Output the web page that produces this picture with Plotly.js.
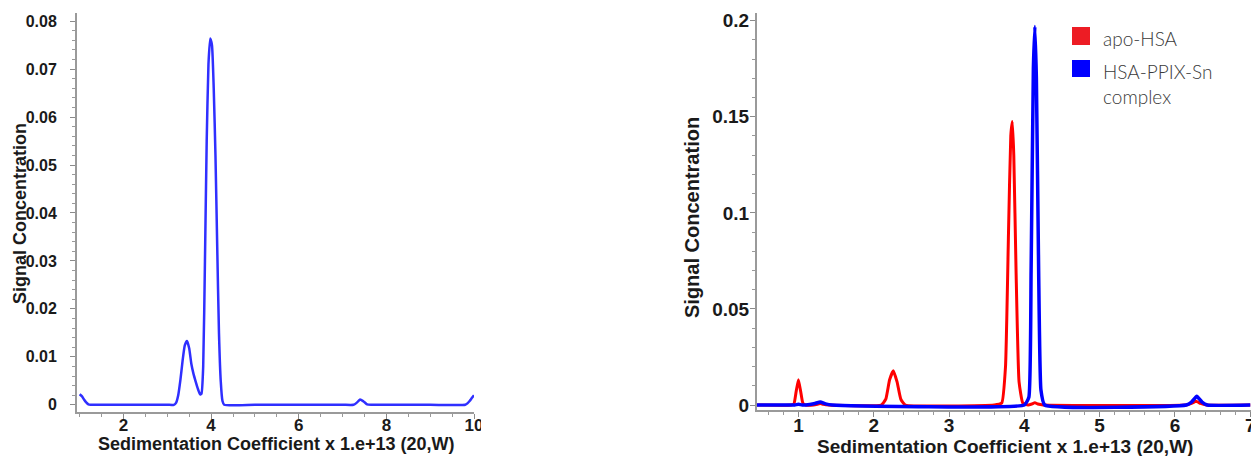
<!DOCTYPE html>
<html>
<head>
<meta charset="utf-8">
<script src="https://cdn.plot.ly/plotly-3.0.1.min.js"></script>
<style>html,body{margin:0;padding:0;background:#fff;}#chart{width:1251px;height:456px;}</style>
</head>
<body>
<div id="chart"></div>
<script>
// ---- Data ----
// Left panel: single sample
const leftX = [1.0, 1.05, 1.1, 1.15, 1.2, 1.25, 1.3, 2.0, 3.0, 3.15, 3.2, 3.25, 3.3, 3.35, 3.4, 3.45, 3.5, 3.55, 3.6, 3.65, 3.7, 3.75, 3.78, 3.82, 3.86, 3.9, 3.94, 3.98, 4.02, 4.06, 4.1, 4.14, 4.18, 4.22, 4.26, 4.3, 5.0, 6.0, 7.0, 7.25, 7.32, 7.4, 7.48, 7.56, 7.65, 8.0, 9.0, 9.8, 9.85, 9.9, 9.95, 10.0];
const leftY = [0.0022, 0.0018, 0.0011, 0.0005, 0.0001, 0, 0, 0, 0, 0, 0.0004, 0.0020, 0.0052, 0.0092, 0.0124, 0.0133, 0.0118, 0.0085, 0.0064, 0.0048, 0.0033, 0.0022, 0.0023, 0.0080, 0.030, 0.055, 0.071, 0.0764, 0.075, 0.066, 0.052, 0.033, 0.015, 0.005, 0.0008, 0, 0, 0, 0, 0, 0.0004, 0.0011, 0.0007, 0.0001, 0, 0, 0, 0, 0.0003, 0.0008, 0.0014, 0.0020];

// Right panel: apo-HSA (red)
const apoX = [0.45, 0.9, 0.94, 0.97, 1.0, 1.03, 1.06, 1.1, 1.2, 1.25, 1.29, 1.33, 1.4, 2.1, 2.16, 2.21, 2.26, 2.31, 2.36, 2.42, 3.6, 3.7, 3.75, 3.79, 3.82, 3.84, 3.86, 3.89, 3.93, 3.98, 4.05, 4.1, 4.14, 4.18, 4.25, 6.15, 6.22, 6.28, 6.34, 6.42, 7.0];
const apoY = [0, 0, 0.0005, 0.007, 0.0132, 0.007, 0.0008, 0, 0, 0.0004, 0.0008, 0.0004, 0, 0, 0.003, 0.013, 0.0178, 0.012, 0.003, 0, 0, 0.001, 0.02, 0.09, 0.14, 0.1475, 0.13, 0.07, 0.012, 0.001, 0, 0.0005, 0.0012, 0.0005, 0, 0, 0.0008, 0.002, 0.0008, 0, 0];

// Right panel: HSA-PPIX-Sn complex (blue)
const cpxX = [0.45, 0.95, 1.0, 1.05, 1.15, 1.22, 1.29, 1.36, 1.45, 4.0, 4.06, 4.09, 4.12, 4.14, 4.16, 4.19, 4.22, 4.27, 6.15, 6.22, 6.29, 6.36, 6.43, 7.0];
const cpxY = [0, 0, 0.0004, 0, 0.0003, 0.0008, 0.0016, 0.0006, 0, 0, 0.004, 0.07, 0.175, 0.197, 0.17, 0.07, 0.008, 0, 0, 0.0015, 0.0045, 0.0015, 0, 0];

const seriesNames = ["apo-HSA", "HSA-PPIX-Sn<br>complex"];
const xTitle = "Sedimentation Coefficient x 1.e+13 (20,W)";
const yTitle = "Signal Concentration";

// ---- Layout helpers (pixel -> paper) ----
const W = 1251, H = 456;
const px = v => v / W;
const py = v => (H - v) / H;

const boldFont = (size) => ({family: "Liberation Sans, Arial, sans-serif", size: size, color: "#1a1a1a", weight: "bold"});

function axisStyle(extra) {
  return Object.assign({
    showline: true, linecolor: "#9a9a9a", linewidth: 2,
    ticks: "outside", ticklen: 5, tickcolor: "#8a8a8a", tickwidth: 1,
    showgrid: false, zeroline: false,
  }, extra);
}

const traces = [
  {x: leftX, y: leftY, type: "scatter", mode: "lines", xaxis: "x", yaxis: "y",
   line: {color: "#2f2fff", width: 2.5, shape: "spline", smoothing: 0.5}, showlegend: false, hoverinfo: "skip"},
  {x: apoX, y: apoY, type: "scatter", mode: "lines", xaxis: "x2", yaxis: "y2", name: seriesNames[0],
   line: {color: "#ff0000", width: 3, shape: "spline", smoothing: 0.4}, showlegend: false},
  {x: cpxX, y: cpxY, type: "scatter", mode: "lines", xaxis: "x2", yaxis: "y2", name: seriesNames[1],
   line: {color: "#0000ff", width: 3.5, shape: "spline", smoothing: 0.4}, showlegend: false}
];

const layout = {
  width: W, height: H,
  margin: {l: 0, r: 0, t: 0, b: 0},
  paper_bgcolor: "#fff", plot_bgcolor: "#fff",
  showlegend: false,
  xaxis: axisStyle({domain: [px(77), px(474)], anchor: "y", range: [0.94, 10], tick0: 0, dtick: 2,
    tickfont: boldFont(17), ticklabelstandoff: -8,
    minor: {dtick: 0.5, ticks: "outside", ticklen: 3, tickcolor: "#999"}}),
  yaxis: axisStyle({domain: [py(412), py(13)], anchor: "x", range: [-0.0015, 0.0817], tick0: 0, dtick: 0.01,
    tickfont: boldFont(16), ticklabelstandoff: 10,
    minor: {dtick: 0.002, ticks: "outside", ticklen: 3, tickcolor: "#999"}}),
  xaxis2: axisStyle({domain: [px(757), px(1251)], anchor: "y2", range: [0.45, 7.01], tick0: 0, dtick: 1,
    tickfont: boldFont(19), ticklabelstandoff: -8, ticklabeloverflow: "allow",
    minor: {dtick: 0.2, ticks: "outside", ticklen: 3, tickcolor: "#999"}}),
  yaxis2: axisStyle({domain: [py(410), py(13)], anchor: "x2", range: [-0.0026, 0.204], tick0: 0, dtick: 0.05,
    tickfont: boldFont(19), ticklabelstandoff: -3,
    minor: {dtick: 0.01, ticks: "outside", ticklen: 3, tickcolor: "#999"}}),
  shapes: [
    // cropped edge of left panel image (hides half of the "10")
    {type: "rect", xref: "paper", yref: "paper", x0: px(481), x1: px(530), y0: py(440), y1: py(414),
     fillcolor: "#fff", line: {width: 0}, layer: "above"},
    // legend swatches
    {type: "rect", xref: "paper", yref: "paper", x0: px(1072), x1: px(1090), y0: py(45), y1: py(27),
     fillcolor: "#ed1c24", line: {width: 0}},
    {type: "rect", xref: "paper", yref: "paper", x0: px(1072), x1: px(1090), y0: py(77), y1: py(60),
     fillcolor: "#0000ff", line: {width: 0}}
  ],
  annotations: [
    {text: yTitle, xref: "paper", yref: "paper", x: px(20), y: py(214), xanchor: "center", yanchor: "middle",
     textangle: -90, showarrow: false, font: boldFont(18)},
    {text: xTitle, xref: "paper", yref: "paper", x: px(276), y: py(444), xanchor: "center", yanchor: "middle",
     showarrow: false, font: boldFont(18)},
    {text: yTitle, xref: "paper", yref: "paper", x: px(692), y: py(218), xanchor: "center", yanchor: "middle",
     textangle: -90, showarrow: false, font: boldFont(20)},
    {text: xTitle, xref: "paper", yref: "paper", x: px(1005), y: py(446), xanchor: "center", yanchor: "middle",
     showarrow: false, font: boldFont(19)},
    {text: seriesNames[0], xref: "paper", yref: "paper", x: px(1101), y: py(38), xanchor: "left", yanchor: "middle",
     showarrow: false, align: "left", font: {family: "Lato, Open Sans, sans-serif", size: 19, color: "#3a3a3a", weight: 300}},
    {text: seriesNames[1], xref: "paper", yref: "paper", x: px(1101), y: py(84), xanchor: "left", yanchor: "middle",
     showarrow: false, align: "left", font: {family: "Lato, Open Sans, sans-serif", size: 19, color: "#3a3a3a", weight: 300}}
  ]
};

Plotly.newPlot("chart", traces, layout, {staticPlot: true, displayModeBar: false});
</script>
</body>
</html>
